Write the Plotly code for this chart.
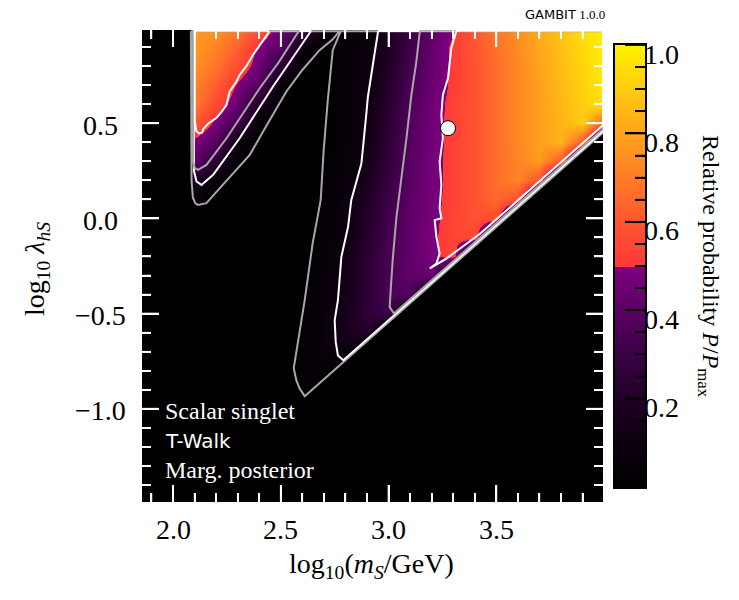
import plotly.graph_objects as go

# ---------------- data ----------------
# grid of the marginalised posterior P/Pmax (rows listed from top y=1.0 down to y=-1.5)
x_cols = [1.85, 2.0, 2.08, 2.1, 2.2, 2.3, 2.4, 2.5, 2.6, 2.7, 2.8, 2.9, 3.0,
          3.1, 3.2, 3.3, 3.4, 3.5, 3.6, 3.7, 3.8, 3.9, 4.0]
y_rows = [1.0, 0.9, 0.8, 0.7, 0.6, 0.5, 0.4, 0.3, 0.2, 0.1, 0.0, -0.1, -0.2,
          -0.3, -0.4, -0.5, -0.6, -0.7, -0.8, -0.9, -1.0, -1.1, -1.2, -1.3, -1.4, -1.5]
prob = [
    [0, 0, 0, .78, .76, .70, .60, .44, .37, .07, .03, .075, .164, .304, .412, .49, .61, .68, .75, .82, .88, .95, 1.0],
    [0, 0, 0, .77, .72, .62, .48, .41, .09, .035, .043, .084, .18, .32, .424, .52, .60, .67, .74, .81, .87, .94, .99],
    [0, 0, 0, .75, .68, .57, .45, .25, .05, .01, .047, .089, .20, .335, .431, .52, .59, .66, .73, .80, .86, .93, .98],
    [0, 0, 0, .72, .62, .485, .385, .07, .01, .005, .052, .095, .218, .352, .439, .52, .59, .66, .73, .79, .86, .92, .97],
    [0, 0, 0, .69, .56, .434, .18, .018, 0, 0, .056, .10, .234, .369, .456, .53, .59, .66, .73, .79, .85, .91, .96],
    [0, 0, 0, .61, .472, .33, .056, 0, 0, 0, .059, .11, .246, .378, .462, .53, .59, .66, .73, .79, .84, .90, .62],
    [0, 0, 0, .47, .39, .096, 0, 0, 0, 0, .063, .122, .259, .385, .462, .53, .59, .66, .73, .79, .84, .61, 0],
    [0, 0, 0, .42, .235, .044, 0, 0, 0, .022, .066, .135, .274, .394, .47, .53, .59, .66, .72, .78, .60, 0, 0],
    [0, 0, 0, .20, .064, 0, 0, 0, 0, .024, .074, .163, .294, .399, .469, .53, .59, .66, .72, .59, 0, 0, 0],
    [0, 0, 0, .06, .01, 0, 0, 0, 0, .028, .084, .189, .312, .406, .473, .53, .59, .65, .58, 0, 0, 0, 0],
    [0, 0, 0, 0, 0, 0, 0, 0, .005, .037, .091, .202, .326, .411, .477, .54, .58, .57, 0, 0, 0, 0, 0],
    [0, 0, 0, 0, 0, 0, 0, 0, .01, .045, .099, .218, .337, .418, .485, .54, .56, 0, 0, 0, 0, 0, 0],
    [0, 0, 0, 0, 0, 0, 0, 0, .012, .054, .121, .234, .346, .418, .475, .55, 0, 0, 0, 0, 0, 0, 0],
    [0, 0, 0, 0, 0, 0, 0, 0, .015, .06, .129, .242, .354, .42, .43, 0, 0, 0, 0, 0, 0, 0, 0],
    [0, 0, 0, 0, 0, 0, 0, 0, .018, .065, .137, .248, .36, .37, 0, 0, 0, 0, 0, 0, 0, 0, 0],
    [0, 0, 0, 0, 0, 0, 0, 0, .02, .071, .15, .26, .30, 0, 0, 0, 0, 0, 0, 0, 0, 0, 0],
    [0, 0, 0, 0, 0, 0, 0, 0, .027, .074, .15, .20, 0, 0, 0, 0, 0, 0, 0, 0, 0, 0, 0],
    [0, 0, 0, 0, 0, 0, 0, .005, .032, .074, .10, 0, 0, 0, 0, 0, 0, 0, 0, 0, 0, 0, 0],
    [0, 0, 0, 0, 0, 0, 0, .01, .04, .05, 0, 0, 0, 0, 0, 0, 0, 0, 0, 0, 0, 0, 0],
    [0, 0, 0, 0, 0, 0, 0, 0, .02, 0, 0, 0, 0, 0, 0, 0, 0, 0, 0, 0, 0, 0, 0],
    [0] * 23, [0] * 23, [0] * 23, [0] * 23, [0] * 23, [0] * 23,
]

# credible-region contour lines: c1 outer gray, c2 white, c3 inner gray, c4 inner white
support_edge_x = [2.560, 2.572, 2.588, 2.611, 3.995]
support_edge_y = [-0.787, -0.850, -0.895, -0.934, 0.450]

c1_x = [2.083, 2.083, 2.086, 2.092, 2.103, 2.116, 2.155, 2.217, 2.286, 2.356, 2.44, 2.526, 2.60, 2.68, 2.74, 2.772,
        2.778, 2.741, 2.718, 2.699, 2.685, 2.648, 2.611, 2.588, 2.564] + support_edge_x
c1_y = [0.984, 0.5, 0.2, 0.11, 0.08, 0.071, 0.08, 0.159, 0.245, 0.334, 0.5, 0.667, 0.78, 0.884, 0.94, 0.984,
        0.984, 0.884, 0.621, 0.358, 0.096, -0.130, -0.429, -0.587, -0.745] + support_edge_y

c2a_x = [2.097, 2.097, 2.109, 2.132, 2.186, 2.309, 2.464, 2.634, 2.64]
c2a_y = [0.985, 0.25, 0.194, 0.176, 0.229, 0.421, 0.693, 0.973, 0.985]
c2b_x = [2.951, 2.951, 2.928, 2.904, 2.897, 2.874, 2.827, 2.812, 2.781, 2.765, 2.750, 2.755, 2.765, 2.79, 3.995]
c2b_y = [0.985, 0.98, 0.814, 0.638, 0.551, 0.288, 0.096, -0.045, -0.202, -0.430, -0.535, -0.65, -0.72, -0.745, 0.46]

c3a_x = [2.093, 2.093, 2.10, 2.116, 2.155, 2.248, 2.402, 2.49, 2.572, 2.585]
c3a_y = [0.986, 0.30, 0.265, 0.255, 0.281, 0.421, 0.684, 0.82, 0.964, 0.986]
c3b_x = [3.147, 3.144, 3.129, 3.106, 3.083, 3.059, 3.036, 3.019, 3.005, 3.025, 3.995]
c3b_y = [0.986, 0.973, 0.824, 0.649, 0.421, 0.211, 0.001, -0.220, -0.465, -0.50, 0.47]

c4a_x = [2.101, 2.101, 2.108, 2.12, 2.135, 2.14, 2.165, 2.201, 2.225, 2.248, 2.263, 2.294, 2.309, 2.34, 2.371, 2.417, 2.443, 2.44]
c4a_y = [0.987, 0.51, 0.46, 0.447, 0.452, 0.47, 0.5, 0.527, 0.56, 0.596, 0.667, 0.719, 0.754, 0.80, 0.859, 0.930, 0.975, 0.987]
c4b_x = [3.314, 3.314, 3.291, 3.283, 3.276, 3.252, 3.245, 3.252, 3.237, 3.245, 3.237, 3.245, 3.214, 3.222, 3.237, 3.222,
         3.191, 3.268, 3.423, 3.716, 3.995]
c4b_y = [0.987, 0.982, 0.894, 0.824, 0.737, 0.649, 0.544, 0.421, 0.299, 0.176, 0.054, 0.001, -0.009, -0.097, -0.184, -0.237,
         -0.263, -0.211, -0.082, 0.211, 0.49]

best_fit = (3.276, 0.474)

x_ticks = [2.0, 2.5, 3.0, 3.5]
x_minor_ticks = [1.9, 2.1, 2.2, 2.3, 2.4, 2.6, 2.7, 2.8, 2.9, 3.1, 3.2, 3.3, 3.4, 3.6, 3.7, 3.8, 3.9]
y_ticks = [-1.0, -0.5, 0.0, 0.5]
y_minor_ticks = [-1.4, -1.3, -1.2, -1.1, -0.9, -0.8, -0.7, -0.6, -0.4, -0.3, -0.2, -0.1,
                 0.1, 0.2, 0.3, 0.4, 0.6, 0.7, 0.8, 0.9]
cbar_ticks = [0.2, 0.4, 0.6, 0.8, 1.0]
cbar_minor_ticks = [0.05, 0.1, 0.15, 0.25, 0.3, 0.35, 0.45, 0.5, 0.55, 0.65, 0.7, 0.75, 0.85, 0.9, 0.95]
cbar_range = [0.0, 1.0]
x_range = [1.856, 3.995]
y_range = [-1.49, 0.99]

# ---------------- style ----------------
SERIF = "Liberation Serif"
SANS = "DejaVu Sans"
GRAY = "#a8a8a8"
colorscale = [
    [0.0, "#000000"], [0.1, "#0c000e"], [0.2, "#210026"], [0.3, "#3a0044"],
    [0.4, "#5a0064"], [0.499, "#800080"], [0.5, "#ff3838"], [0.6, "#ff5630"],
    [0.7, "#ff7c26"], [0.8, "#ffa31c"], [0.9, "#ffcb10"], [1.0, "#fff200"],
]

W, H = 739, 600
L, R, T, B = 142, 94, 30, 98
pw, ph = W - L - R, H - T - B
PLOT_RIGHT = 603
CB_LEFT, CB_RIGHT, CB_TOP, CB_BOTTOM = 615, 645, 45, 487
MAJ, MIN = 17, 9  # tick lengths in px


def px_x(p):
    return (p - L) / pw


def px_y(p):
    return (H - B - p) / ph


sx = (PLOT_RIGHT - L) / (x_range[1] - x_range[0])   # px per x unit
sy = ph / (y_range[1] - y_range[0])                 # px per y unit

fig = go.Figure()

fig.add_trace(go.Heatmap(
    x=x_cols, y=y_rows[::-1], z=prob[::-1], zsmooth="best",
    colorscale=colorscale, zmin=0, zmax=1, showscale=False, hoverinfo="skip"))

# zero-probability region below the sharp lower edge of the allowed band
mask_x = [support_edge_x[0] - 0.1] + support_edge_x + [x_range[1], x_range[1], support_edge_x[0] - 0.1]
mask_y = [support_edge_y[0] - 0.2] + support_edge_y + [support_edge_y[-1] - 0.02, y_range[0], y_range[0]]
fig.add_trace(go.Scatter(x=mask_x, y=mask_y, fill="toself", fillcolor="black",
                         line=dict(width=0), mode="lines", hoverinfo="skip"))

for cx, cy, col in [(c1_x, c1_y, GRAY), (c2a_x, c2a_y, "white"), (c2b_x, c2b_y, "white"),
                    (c3a_x, c3a_y, GRAY), (c3b_x, c3b_y, GRAY),
                    (c4a_x, c4a_y, "white"), (c4b_x, c4b_y, "white")]:
    # each contour closes along the edges of the scanned range (right edge, then top edge)
    if cx[-1] >= x_range[1]:
        px_, py_ = cx + [cx[-1], cx[0]], cy + [cy[0], cy[0]]
    else:
        px_, py_ = cx + [cx[0]], cy + [cy[0]]
    fig.add_trace(go.Scatter(x=px_, y=py_, mode="lines",
                             line=dict(color=col, width=2), hoverinfo="skip"))

fig.add_trace(go.Scatter(x=[best_fit[0]], y=[best_fit[1]], mode="markers",
                         marker=dict(size=15, color="white", line=dict(color="black", width=1))))


# white tick marks on all four sides of the main panel
def tick_path(xvals, yvals, length):
    tx, ty = [], []
    lx, ly = length / sx, length / sy
    for v in xvals:
        tx += [v, v, None, v, v, None]
        ty += [y_range[0], y_range[0] + ly, None, y_range[1], y_range[1] - ly, None]
    for v in yvals:
        tx += [x_range[0], x_range[0] + lx, None, x_range[1], x_range[1] - lx, None]
        ty += [v, v, None, v, v, None]
    return tx, ty


for xv, yv, ln, wd in [(x_ticks, y_ticks, MAJ, 1.8), (x_minor_ticks, y_minor_ticks, MIN, 1.5)]:
    tx, ty = tick_path(xv, yv, ln)
    fig.add_trace(go.Scatter(x=tx, y=ty, mode="lines", line=dict(color="white", width=wd),
                             hoverinfo="skip"))

# colour bar drawn as its own small panel
fig.add_trace(go.Heatmap(x=[0, 1], y=cbar_range, z=[[cbar_range[0]] * 2, [cbar_range[1]] * 2],
                         zsmooth="best", colorscale=colorscale, zmin=0, zmax=1,
                         showscale=False, xaxis="x2", yaxis="y2", hoverinfo="skip"))
cb_w = CB_RIGHT - CB_LEFT
for vals, ln, wd in [(cbar_ticks, 20, 1.8), (cbar_minor_ticks, 10, 1.5)]:
    tx, ty = [], []
    for v in vals:
        tx += [1, 1 - ln / cb_w, None]
        ty += [v, v, None]
    fig.add_trace(go.Scatter(x=tx, y=ty, mode="lines", line=dict(color="black", width=wd),
                             xaxis="x2", yaxis="y2", hoverinfo="skip"))

main_axis = dict(showgrid=False, zeroline=False, showticklabels=False, ticks="inside",
                 ticklen=MAJ, tickwidth=1.8, tickcolor="white", mirror="ticks",
                 showline=False, layer="above traces", tickmode="linear",
                 minor=dict(ticks="inside", ticklen=MIN, tickwidth=1.5, tickcolor="white", dtick=0.1))

fig.update_layout(
    width=W, height=H, margin=dict(l=L, r=R, t=T, b=B),
    paper_bgcolor="white", plot_bgcolor="black", showlegend=False,
    xaxis=dict(domain=[0, px_x(PLOT_RIGHT)], range=x_range, tick0=x_ticks[0],
               dtick=x_ticks[1] - x_ticks[0], **main_axis),
    yaxis=dict(domain=[0, 1], range=y_range, tick0=y_ticks[2],
               dtick=y_ticks[3] - y_ticks[2], **main_axis),
    xaxis2=dict(domain=[px_x(CB_LEFT), px_x(CB_RIGHT)], range=[0, 1], anchor="y2",
                showgrid=False, zeroline=False, showticklabels=False, ticks="",
                showline=True, mirror=True, linecolor="black", linewidth=2, layer="above traces"),
    yaxis2=dict(domain=[px_y(CB_BOTTOM), px_y(CB_TOP)], range=cbar_range, anchor="x2", side="right",
                showgrid=False, zeroline=False, showticklabels=False, tickmode="linear",
                tick0=cbar_ticks[0], dtick=cbar_ticks[1] - cbar_ticks[0],
                ticks="inside", ticklen=20, tickwidth=1.8, tickcolor="black",
                minor=dict(ticks="inside", ticklen=10, tickwidth=1.5, tickcolor="black", dtick=0.05),
                showline=True, mirror=True, linecolor="black", linewidth=2, layer="above traces"),
)

ann = []
for v in x_ticks:
    ann.append(dict(x=v, y=px_y(529), xref="x", yref="paper", showarrow=False,
                    text=f"{v:.1f}", font=dict(family=SERIF, size=28, color="black"),
                    xanchor="center", yanchor="middle"))
for v in y_ticks:
    ann.append(dict(x=px_x(100), y=v, xref="paper", yref="y", showarrow=False, yshift=-2,
                    text=("\u2212" if v < 0 else "") + f"{abs(v):.1f}",
                    font=dict(family=SERIF, size=28, color="black"), xanchor="center", yanchor="middle"))
for v in cbar_ticks:
    ann.append(dict(x=px_x(642), y=v, xref="paper", yref="y2", showarrow=False, yshift=-9,
                    text=f"{v:.1f}", font=dict(family=SERIF, size=28, color="black"),
                    xanchor="left", yanchor="middle"))
ann += [
    dict(x=px_x(371), y=px_y(565), xref="paper", yref="paper", showarrow=False,
         xanchor="center", yanchor="middle",
         text="log<sub>10</sub>(<i>m</i><sub><i>S</i></sub>/GeV)",
         font=dict(family=SERIF, size=28, color="black")),
    dict(x=px_x(36), y=px_y(269), xref="paper", yref="paper", showarrow=False, textangle=-90,
         xanchor="center", yanchor="middle",
         text="log<sub>10</sub> <i>\u03bb</i><sub><i>hS</i></sub>",
         font=dict(family=SERIF, size=28, color="black")),
    dict(x=px_x(709), y=px_y(266), xref="paper", yref="paper", showarrow=False, textangle=90,
         xanchor="center", yanchor="middle",
         text="Relative probability <i>P</i>/<i>P</i><sub>max</sub>",
         font=dict(family=SERIF, size=24, color="black")),
    dict(x=px_x(607), y=px_y(14), xref="paper", yref="paper", showarrow=False,
         xanchor="right", yanchor="middle",
         text="<span style='font-family:DejaVu Sans'>GAMBIT</span> 1.0.0",
         font=dict(family=SERIF, size=13, color="black")),
    dict(x=1.952, y=-1.013, xref="x", yref="y", showarrow=False, xanchor="left", yanchor="middle",
         text="Scalar singlet", font=dict(family=SERIF, size=24, color="white")),
    dict(x=1.952, y=-1.172, xref="x", yref="y", showarrow=False, xanchor="left", yanchor="middle",
         text="T-Walk", font=dict(family=SANS, size=20, color="white")),
    dict(x=1.952, y=-1.324, xref="x", yref="y", showarrow=False, xanchor="left", yanchor="middle",
         text="Marg. posterior", font=dict(family=SERIF, size=24, color="white")),
]
fig.update_layout(annotations=ann)

fig.write_html("out.html")
